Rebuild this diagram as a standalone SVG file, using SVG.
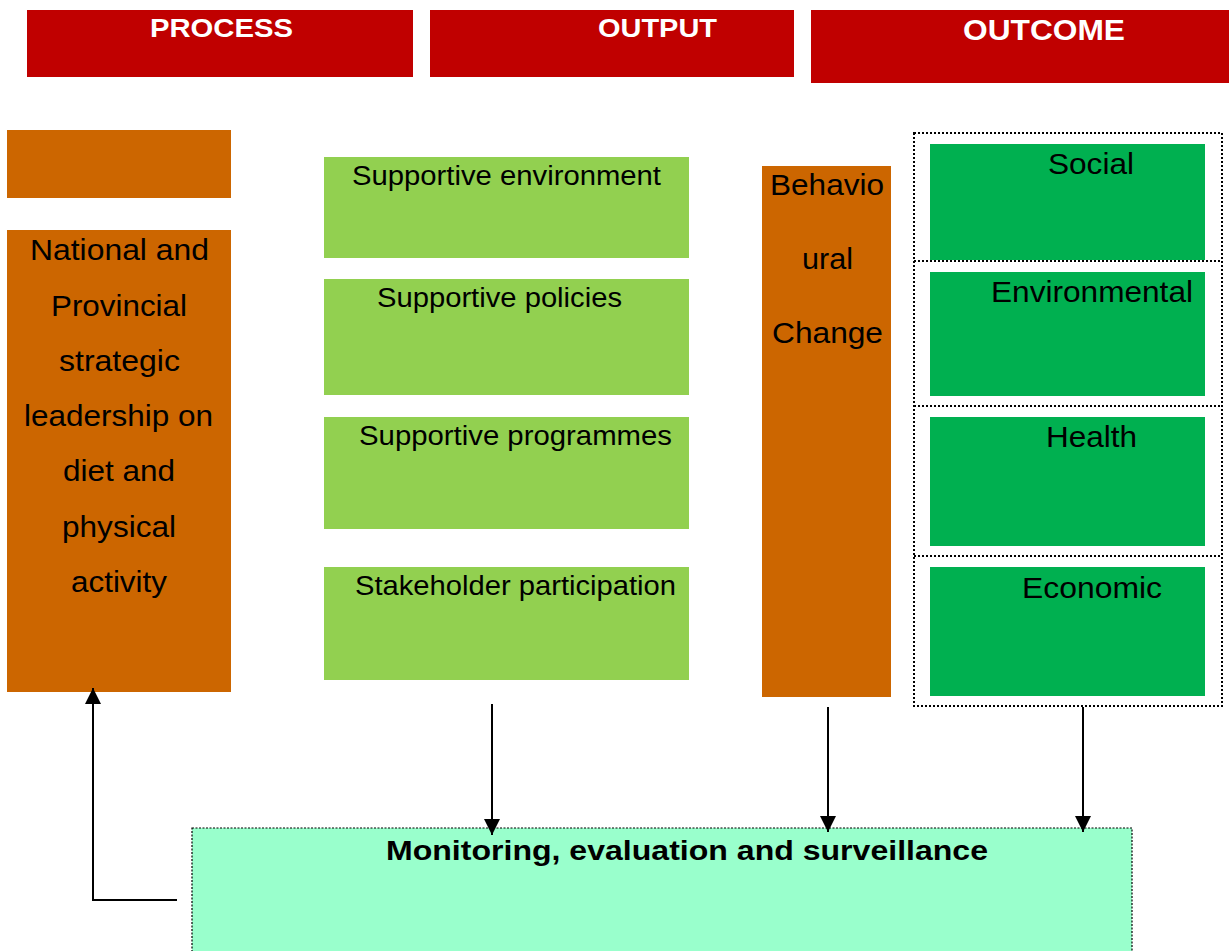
<svg xmlns="http://www.w3.org/2000/svg" width="1229" height="951" viewBox="0 0 1229 951">
<defs>
<style>
text{font-family:"Liberation Sans",Arial,sans-serif;fill:#000}
.hd{fill:#C00000}
.hdt{fill:#fff;font-weight:bold}
.or{fill:#CC6600}
.lg{fill:#92D050}
.dg{fill:#00B050}
.t31{font-size:29.5px}
.t28{font-size:27.5px}
.dot{fill:none;stroke:#000;stroke-width:2;stroke-dasharray:2 2}
.con{fill:none;stroke:#000;stroke-width:2}
</style>
<marker id="ah" markerUnits="userSpaceOnUse" markerWidth="16" markerHeight="16" viewBox="0 0 16 16" refX="16" refY="8" orient="auto">
<path d="M0,0 L16,8 L0,16 Z" fill="#000"/>
</marker>
</defs>
<rect width="1229" height="951" fill="#fff"/>

<g id="hdr-process"><rect class="hd" x="27" y="10" width="386" height="67"/><text class="hdt" x="150" y="37" font-size="26.5" textLength="143" lengthAdjust="spacingAndGlyphs">PROCESS</text></g>
<g id="hdr-output"><rect class="hd" x="430" y="10" width="364" height="67"/><text class="hdt" x="598" y="37" font-size="26.5" textLength="119" lengthAdjust="spacingAndGlyphs">OUTPUT</text></g>
<g id="hdr-outcome"><rect class="hd" x="811" y="10" width="418" height="73"/><text class="hdt" x="963" y="40" font-size="29" textLength="162" lengthAdjust="spacingAndGlyphs">OUTCOME</text></g>

<g id="process-top"><rect class="or" x="7" y="130" width="224" height="68"/></g>
<g id="process-main"><rect class="or" x="7" y="230" width="224" height="462"/>
<text class="t31" x="30" y="260" textLength="179" lengthAdjust="spacingAndGlyphs">National and</text>
<text class="t31" x="51" y="316" textLength="136" lengthAdjust="spacingAndGlyphs">Provincial</text>
<text class="t31" x="59" y="371" textLength="121" lengthAdjust="spacingAndGlyphs">strategic</text>
<text class="t31" x="24" y="426" textLength="189" lengthAdjust="spacingAndGlyphs">leadership on</text>
<text class="t31" x="63" y="481" textLength="112" lengthAdjust="spacingAndGlyphs">diet and</text>
<text class="t31" x="62" y="537" textLength="114" lengthAdjust="spacingAndGlyphs">physical</text>
<text class="t31" x="71" y="592" textLength="96" lengthAdjust="spacingAndGlyphs">activity</text>
</g>

<g id="out-env"><rect class="lg" x="324" y="157" width="365" height="101"/><text class="t28" x="352" y="185" textLength="309" lengthAdjust="spacingAndGlyphs">Supportive environment</text></g>
<g id="out-pol"><rect class="lg" x="324" y="279" width="365" height="116"/><text class="t28" x="377" y="307" textLength="245" lengthAdjust="spacingAndGlyphs">Supportive policies</text></g>
<g id="out-prog"><rect class="lg" x="324" y="417" width="365" height="112"/><text class="t28" x="359" y="445" textLength="313" lengthAdjust="spacingAndGlyphs">Supportive programmes</text></g>
<g id="out-stake"><rect class="lg" x="324" y="567" width="365" height="113"/><text class="t28" x="355" y="595" textLength="321" lengthAdjust="spacingAndGlyphs">Stakeholder participation</text></g>

<g id="behaviour"><rect class="or" x="762" y="166" width="129" height="531"/>
<text class="t31" x="770" y="195" textLength="114" lengthAdjust="spacingAndGlyphs">Behavio</text>
<text class="t31" x="802" y="269" textLength="51" lengthAdjust="spacingAndGlyphs">ural</text>
<text class="t31" x="772" y="343" textLength="111" lengthAdjust="spacingAndGlyphs">Change</text>
</g>

<g id="outcome-frame">
<rect class="dot" x="914" y="133" width="308" height="573"/>
<line class="dot" x1="914" y1="261" x2="1222" y2="261"/>
<line class="dot" x1="914" y1="406" x2="1222" y2="406"/>
<line class="dot" x1="914" y1="556" x2="1222" y2="556"/>
</g>
<g id="oc-social"><rect class="dg" x="930" y="144" width="275" height="116"/><text class="t31" x="1048" y="174" textLength="86" lengthAdjust="spacingAndGlyphs">Social</text></g>
<g id="oc-env"><rect class="dg" x="930" y="272" width="275" height="124"/><text class="t31" x="991" y="302" textLength="202" lengthAdjust="spacingAndGlyphs">Environmental</text></g>
<g id="oc-health"><rect class="dg" x="930" y="417" width="275" height="129"/><text class="t31" x="1046" y="447" textLength="91" lengthAdjust="spacingAndGlyphs">Health</text></g>
<g id="oc-econ"><rect class="dg" x="930" y="567" width="275" height="129"/><text class="t31" x="1022" y="598" textLength="140" lengthAdjust="spacingAndGlyphs">Economic</text></g>

<g id="monitoring"><rect x="192" y="828" width="940" height="130" fill="#99FFCC" stroke="#000" stroke-width="1.2" stroke-dasharray="2 1.5"/>
<text x="386" y="860" font-size="28.5" font-weight="bold" textLength="602" lengthAdjust="spacingAndGlyphs">Monitoring, evaluation and surveillance</text></g>

<g id="connectors">
<line class="con" x1="492" y1="704" x2="492" y2="835" marker-end="url(#ah)"/>
<line class="con" x1="828" y1="707" x2="828" y2="832" marker-end="url(#ah)"/>
<line class="con" x1="1083" y1="707" x2="1083" y2="832" marker-end="url(#ah)"/>
<polyline class="con" points="177,900 93,900 93,688" marker-end="url(#ah)"/>
</g>
</svg>
